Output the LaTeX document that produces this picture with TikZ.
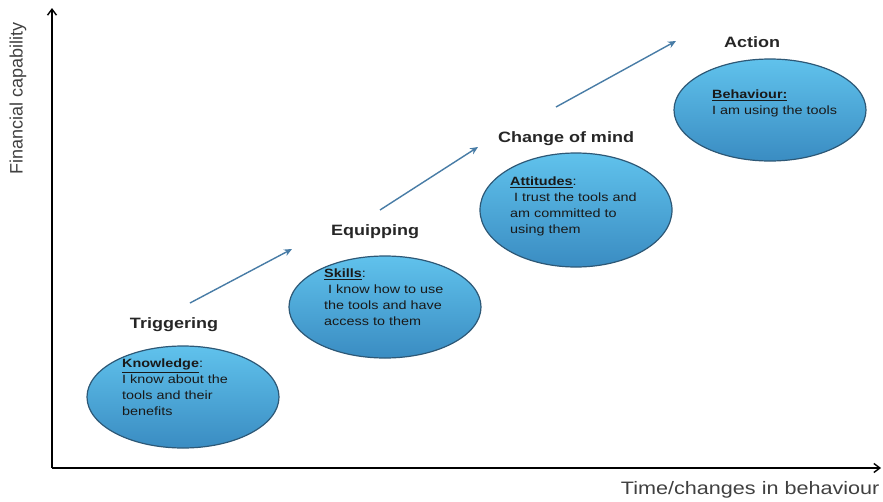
\documentclass[tikz,border=0pt]{standalone}
\usepackage{fontspec}
\setmainfont{Liberation Sans}[FakeStretch=1.2]
\newfontfamily\plainsans{Liberation Sans}
\usetikzlibrary{arrows.meta,shapes.geometric}

\definecolor{bubtop}{RGB}{96,194,236}
\definecolor{bubbot}{RGB}{58,140,194}
\definecolor{bubline}{RGB}{45,88,118}
\definecolor{steparrow}{RGB}{72,124,166}

\tikzset{
  bubble/.style={ellipse, draw=bubline, line width=1.2pt, top color=bubtop, bottom color=bubbot, minimum width=192pt, minimum height=102pt},
  stage/.style={font=\fontsize{15}{17}\selectfont\bfseries, text=black!85},
  inside/.style={anchor=north west, align=left, inner sep=0pt, font=\fontsize{12}{16}\selectfont, text=black!90},
  axislabel/.style={font=\fontsize{18}{20}\selectfont, text=black!75},
  climb/.style={draw=steparrow, line width=1.4pt, -{Stealth[length=8pt,width=7pt]}}
}

\begin{document}
\begin{tikzpicture}[x=1pt, y=1pt]
\useasboundingbox (0,0) rectangle (883,-501);
% axes
\coordinate (O) at (52,-468);
\coordinate (ytop) at (52,-8);
\coordinate (xend) at (881,-468);
\draw[line width=1.4pt, -{Straight Barb[length=6pt,width=9pt]}] (O) -- (ytop);
\draw[line width=1.4pt, -{Straight Barb[length=6pt,width=9pt]}] (O) -- (xend);
\node[axislabel, font=\fontsize{18}{20}\plainsans, rotate=90] (ylab) at (18,-98) {Financial capability};
\node[axislabel, anchor=east] (xlab) at (883,-490) {Time/changes in behaviour};

% the four stages
\node[bubble] (know) at (183,-397) {};
\node[bubble] (skill) at (385,-307) {};
\node[bubble, minimum height=114pt] (att) at (576,-210) {};
\node[bubble] (beh) at (770,-110) {};

\node[stage] (trig) at (174,-325) {Triggering};
\node[stage] (equip) at (375,-232) {Equipping};
\node[stage] (mind) at (566,-139) {Change of mind};
\node[stage] (act) at (752,-42) {Action};

\node[inside] (tknow) at (122,-359) {\textbf{\underline{Knowledge}}:\\I know about the\\tools and their\\benefits};
\node[inside] (tskill) at (324,-269) {\textbf{\underline{Skills}}:\\\ I know how to use\\the tools and have\\access to them};
\node[inside] (tatt) at (510,-177) {\textbf{\underline{Attitudes}}:\\\ I trust the tools and\\am committed to\\using them};
\node[inside] (tbeh) at (712,-90) {\textbf{\underline{Behaviour:}}\\I am using the tools};

% arrows between stages
\coordinate (a1) at (190,-303); \coordinate (b1) at (292,-249);
\coordinate (a2) at (380,-210); \coordinate (b2) at (478,-147);
\coordinate (a3) at (556,-107); \coordinate (b3) at (676,-41);
\foreach \s/\e in {a1/b1, a2/b2, a3/b3}
  \draw[climb] (\s) -- (\e);
\end{tikzpicture}
\end{document}
